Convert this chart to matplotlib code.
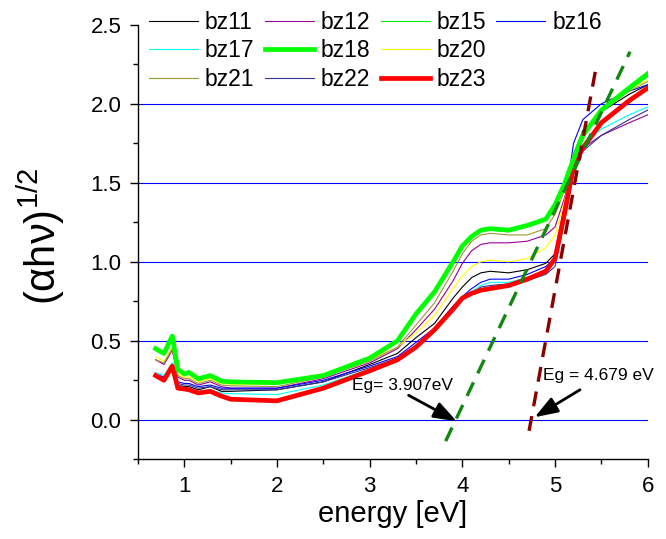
import matplotlib
matplotlib.use("Agg")
import matplotlib.pyplot as plt
from matplotlib.lines import Line2D
from matplotlib.ticker import MultipleLocator

plt.rcParams['font.family'] = ['Liberation Sans', 'DejaVu Sans']
plt.rcParams['mathtext.fontset'] = 'custom'
plt.rcParams['mathtext.rm'] = 'Liberation Sans'

# ---- data ----
energy = [0.69, 0.78, 0.87, 0.93, 1.0, 1.05, 1.15, 1.28, 1.4, 1.5, 2.0, 2.5, 3.0, 3.3,
          3.5, 3.7, 3.9, 4.0, 4.1, 4.2, 4.3, 4.5, 4.7, 4.9,
          5.0, 5.1, 5.2, 5.3, 5.5, 5.8, 6.0]

bz11 = [0.28, 0.26, 0.34, 0.22, 0.21, 0.21, 0.19, 0.21, 0.18, 0.18, 0.19, 0.24, 0.35, 0.42,
        0.52, 0.61, 0.77, 0.84, 0.90, 0.93, 0.94, 0.93, 0.95, 0.99,
        1.05, 1.35, 1.68, 1.83, 1.95, 2.06, 2.12]
bz12 = [0.38, 0.35, 0.44, 0.27, 0.25, 0.25, 0.22, 0.24, 0.21, 0.20, 0.20, 0.26, 0.36, 0.45,
        0.57, 0.70, 0.88, 0.99, 1.07, 1.11, 1.12, 1.12, 1.13, 1.17,
        1.22, 1.40, 1.60, 1.72, 1.80, 1.88, 1.93]
bz15 = [0.44, 0.41, 0.52, 0.31, 0.285, 0.29, 0.255, 0.27, 0.24, 0.235, 0.23, 0.275, 0.385, 0.49,
        0.66, 0.80, 0.99, 1.09, 1.15, 1.19, 1.20, 1.19, 1.22, 1.26,
        1.35, 1.48, 1.64, 1.79, 1.95, 2.09, 2.17]
bz16 = [0.29, 0.27, 0.35, 0.24, 0.23, 0.23, 0.21, 0.22, 0.20, 0.20, 0.20, 0.25, 0.34, 0.40,
        0.49, 0.58, 0.72, 0.78, 0.83, 0.87, 0.89, 0.89, 0.92, 0.97,
        1.02, 1.35, 1.75, 1.90, 2.00, 2.08, 2.12]
bz17 = [0.30, 0.28, 0.36, 0.22, 0.20, 0.20, 0.18, 0.19, 0.17, 0.165, 0.16, 0.22, 0.32, 0.39,
        0.47, 0.56, 0.70, 0.76, 0.81, 0.85, 0.87, 0.87, 0.90, 0.94,
        1.00, 1.30, 1.60, 1.74, 1.84, 1.93, 1.98]
bz18 = [0.45, 0.42, 0.53, 0.32, 0.29, 0.30, 0.26, 0.28, 0.245, 0.24, 0.235, 0.28, 0.39, 0.50,
        0.67, 0.81, 1.00, 1.10, 1.16, 1.20, 1.21, 1.20, 1.23, 1.27,
        1.36, 1.49, 1.65, 1.80, 1.96, 2.10, 2.19]
bz20 = [0.40, 0.37, 0.46, 0.29, 0.27, 0.27, 0.24, 0.26, 0.23, 0.225, 0.225, 0.28, 0.38, 0.46,
        0.55, 0.66, 0.83, 0.91, 0.97, 1.00, 1.01, 1.00, 1.02, 1.09,
        1.17, 1.38, 1.62, 1.80, 1.95, 2.09, 2.15]
bz21 = [0.38, 0.36, 0.45, 0.28, 0.26, 0.26, 0.23, 0.25, 0.22, 0.215, 0.21, 0.27, 0.37, 0.46,
        0.60, 0.74, 0.94, 1.05, 1.13, 1.17, 1.18, 1.17, 1.17, 1.21,
        1.30, 1.45, 1.66, 1.80, 1.95, 2.08, 2.14]
bz22 = [0.28, 0.26, 0.34, 0.23, 0.22, 0.22, 0.20, 0.21, 0.19, 0.19, 0.19, 0.24, 0.33, 0.39,
        0.47, 0.56, 0.69, 0.76, 0.80, 0.84, 0.85, 0.86, 0.88, 0.92,
        0.97, 1.25, 1.55, 1.70, 1.80, 1.90, 1.96]
bz23 = [0.28, 0.25, 0.34, 0.20, 0.195, 0.19, 0.17, 0.18, 0.15, 0.13, 0.12, 0.20, 0.31, 0.38,
        0.46, 0.57, 0.70, 0.77, 0.80, 0.82, 0.83, 0.85, 0.89, 0.94,
        1.02, 1.30, 1.61, 1.72, 1.88, 2.02, 2.10]

series_names = ["bz11", "bz12", "bz15", "bz16", "bz17", "bz18", "bz20", "bz21", "bz22", "bz23"]
series_values = [bz11, bz12, bz15, bz16, bz17, bz18, bz20, bz21, bz22, bz23]
series_colors = ["#000000", "#990099", "#00ee00", "#0000ff", "#00ffff", "#00ff00",
                 "#ffff00", "#999933", "#333399", "#ff0000"]
series_widths = [0.8, 0.8, 0.8, 0.8, 0.8, 3.4, 0.8, 0.8, 0.8, 3.4]

eg_labels = ["Eg= 3.907eV", "Eg = 4.679 eV"]
fit1_x = [3.82, 5.81]
fit1_y = [-0.135, 2.33]
fit2_x = [4.72, 5.44]
fit2_y = [-0.07, 2.22]

# ---- figure ----
fig = plt.figure(figsize=(6.66, 5.39), dpi=100)
ax = fig.add_axes([0.2072, 0.1479, 0.7653, 0.8061])

for yv in [0.0, 0.5, 1.0, 1.5, 2.0]:
    ax.axhline(yv, color="#0000ff", lw=0.8, zorder=1)

draw_order = [0, 1, 3, 4, 6, 7, 8, 2, 9, 5]
handles = {}
for i in draw_order:
    h, = ax.plot(energy, series_values[i], color=series_colors[i],
                 lw=series_widths[i], label=series_names[i], zorder=3 + (i in (5, 9)))
    handles[series_names[i]] = h

# band-gap fit lines
ax.plot(fit1_x, fit1_y, color="#118811", lw=2.4, dashes=(4.5, 3.0), zorder=5)
ax.plot(fit2_x, fit2_y, color="#880000", lw=2.4, dashes=(4.5, 3.0), zorder=5)

# annotations
arrow_style = "-|>,head_length=1.4,head_width=0.5"
ax.annotate("", xy=(3.94, -0.01), xytext=(3.42, 0.155),
            arrowprops=dict(arrowstyle=arrow_style, color="black", lw=2.0,
                            shrinkA=0, shrinkB=0), zorder=6)
ax.annotate("", xy=(4.78, 0.016), xytext=(5.27, 0.19),
            arrowprops=dict(arrowstyle=arrow_style, color="black", lw=2.0,
                            shrinkA=0, shrinkB=0), zorder=6)
ax.text(2.81, 0.217, eg_labels[0], fontsize=12.5, va="center", ha="left", zorder=6)
ax.text(4.87, 0.28, eg_labels[1], fontsize=12.5, va="center", ha="left", zorder=6)

ax.set_xlim(0.5, 6.0)
ax.set_ylim(-0.25, 2.5)
ax.xaxis.set_major_locator(MultipleLocator(1))
ax.xaxis.set_minor_locator(MultipleLocator(0.5))
ax.yaxis.set_major_locator(MultipleLocator(0.5))
ax.yaxis.set_minor_locator(MultipleLocator(0.25))
ax.yaxis.set_major_formatter(matplotlib.ticker.FormatStrFormatter("%.1f"))
ax.tick_params(which="major", direction="out", length=6, width=1, labelsize=16, pad=6)
ax.tick_params(which="minor", direction="out", length=3.5, width=1)
for s in ["top", "right"]:
    ax.spines[s].set_visible(False)
for s in ["left", "bottom"]:
    ax.spines[s].set_linewidth(1)

ax.set_xlabel("energy [eV]", fontsize=21, labelpad=2)
fig.text(41 / 666, 1 - 236 / 539, r"(αhν)$^{1/2}$", fontsize=30, rotation=90,
         ha="center", va="center")

# legend in row-major order (4 columns)
blank = Line2D([], [], color="none")
order = ["bz11", "bz17", "bz21", "bz12", "bz18", "bz22", "bz15", "bz20", "bz23", "bz16"]
leg_handles = [handles[n] for n in order] + [blank, blank]
leg_labels = order + ["", ""]
leg = fig.legend(leg_handles, leg_labels, ncol=4, loc="upper left",
                 bbox_to_anchor=(149 / 666, 1 - 11 / 539), frameon=False,
                 fontsize=16.5, handlelength=2.14, handletextpad=0.3,
                 columnspacing=0.45, labelspacing=0.23, borderpad=0, borderaxespad=0)

fig.savefig("out.png", dpi=100)
